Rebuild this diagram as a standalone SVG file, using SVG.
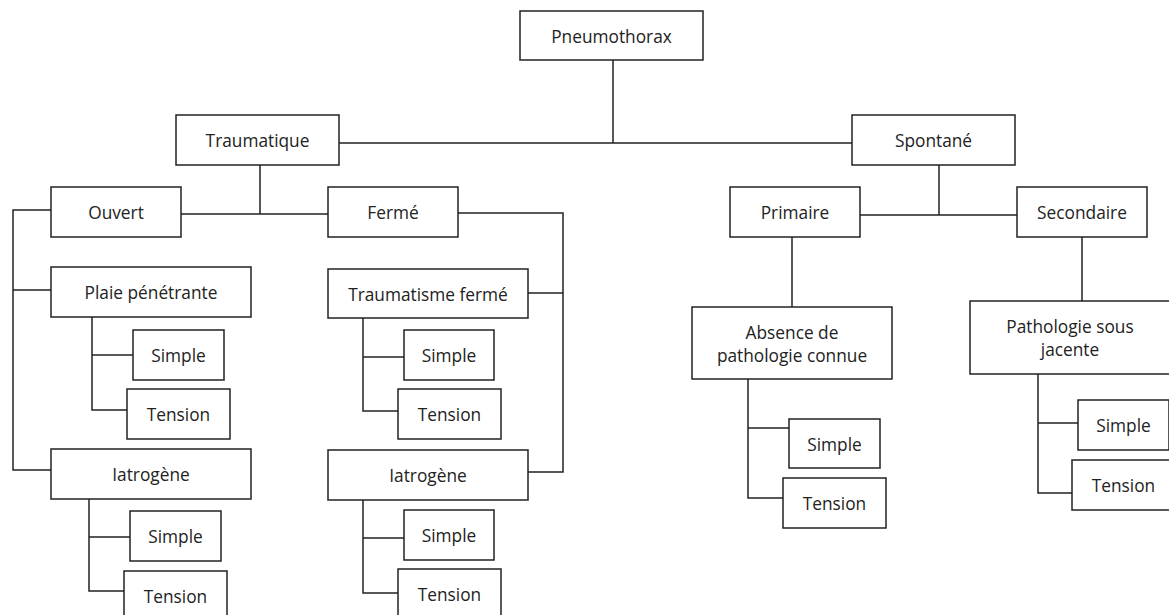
<svg xmlns="http://www.w3.org/2000/svg" width="1169" height="615" viewBox="0 0 1169 615">
<style>
rect{fill:#fff;stroke:#222;stroke-width:1.5}
text{font-family:"Open Sans","Noto Sans",sans-serif;font-size:17.3px;fill:#222;text-anchor:middle;dominant-baseline:central}
#connectors path{fill:none;stroke:#222;stroke-width:1.5}
</style>
<rect x="0" y="0" width="1169" height="615" style="fill:#fff;stroke:none"/>
<g id="connectors">
<path d="M613 60V143M339 143H852"/>
<path d="M260 165V214M181 214H328"/>
<path d="M51 210H13V470H51M13 290H51"/>
<path d="M458 213H563V472H528M528 293H563"/>
<path d="M92 317V410H127M92 355H133"/>
<path d="M89 499V591H124M89 537H130"/>
<path d="M363 318V411H398M363 357H404"/>
<path d="M363 500V593H398M363 538H404"/>
<path d="M939 165V215M860 215H1017"/>
<path d="M792 237V307"/>
<path d="M1082 237V301"/>
<path d="M748 379V498H783M748 428H789"/>
<path d="M1038 374V493H1072M1038 423H1078"/>
</g>
<g id="pneumothorax"><rect x="520" y="11" width="183" height="49"/><text x="611.5" y="36">Pneumothorax</text></g>
<g id="traumatique"><rect x="176" y="115" width="163" height="50"/><text x="257.5" y="140">Traumatique</text></g>
<g id="spontane"><rect x="852" y="115" width="163" height="50"/><text x="933.5" y="140">Spontané</text></g>
<g id="ouvert"><rect x="51" y="187" width="130" height="50"/><text x="116" y="212">Ouvert</text></g>
<g id="ferme"><rect x="328" y="187" width="130" height="50"/><text x="393" y="212">Fermé</text></g>
<g id="plaie"><rect x="51" y="267" width="200" height="50"/><text x="151" y="292">Plaie pénétrante</text></g>
<g id="simple1"><rect x="133" y="330" width="91" height="50"/><text x="178.5" y="355">Simple</text></g>
<g id="tension1"><rect x="127" y="389" width="103" height="50"/><text x="178.5" y="414">Tension</text></g>
<g id="iatrogene1"><rect x="51" y="449" width="200" height="50"/><text x="151" y="474">Iatrogène</text></g>
<g id="simple2"><rect x="130" y="511" width="91" height="50"/><text x="175.5" y="536">Simple</text></g>
<g id="tension2"><rect x="124" y="571" width="103" height="50"/><text x="175.5" y="596">Tension</text></g>
<g id="traumatisme"><rect x="328" y="269" width="200" height="49"/><text x="428" y="294">Traumatisme fermé</text></g>
<g id="simple3"><rect x="404" y="330" width="90" height="50"/><text x="449" y="355">Simple</text></g>
<g id="tension3"><rect x="398" y="389" width="103" height="50"/><text x="449.5" y="414">Tension</text></g>
<g id="iatrogene2"><rect x="328" y="450" width="200" height="50"/><text x="428" y="475">Iatrogène</text></g>
<g id="simple4"><rect x="404" y="510" width="90" height="50"/><text x="449" y="535">Simple</text></g>
<g id="tension4"><rect x="398" y="569" width="103" height="50"/><text x="449.5" y="594">Tension</text></g>
<g id="primaire"><rect x="730" y="187" width="130" height="50"/><text x="795" y="212">Primaire</text></g>
<g id="secondaire"><rect x="1017" y="187" width="130" height="50"/><text x="1082" y="212">Secondaire</text></g>
<g id="absence"><rect x="692" y="307" width="200" height="72"/><text x="792" y="332">Absence de</text><text x="792" y="355">pathologie connue</text></g>
<g id="pathologie"><rect x="970" y="301" width="200" height="73"/><text x="1070" y="326">Pathologie sous</text><text x="1070" y="349">jacente</text></g>
<g id="simple5"><rect x="789" y="419" width="91" height="49"/><text x="834.5" y="444">Simple</text></g>
<g id="tension5"><rect x="783" y="478" width="103" height="50"/><text x="834.5" y="503">Tension</text></g>
<g id="simple6"><rect x="1078" y="400" width="91" height="50"/><text x="1123.5" y="425">Simple</text></g>
<g id="tension6"><rect x="1072" y="460" width="103" height="50"/><text x="1123.5" y="485">Tension</text></g>
</svg>
